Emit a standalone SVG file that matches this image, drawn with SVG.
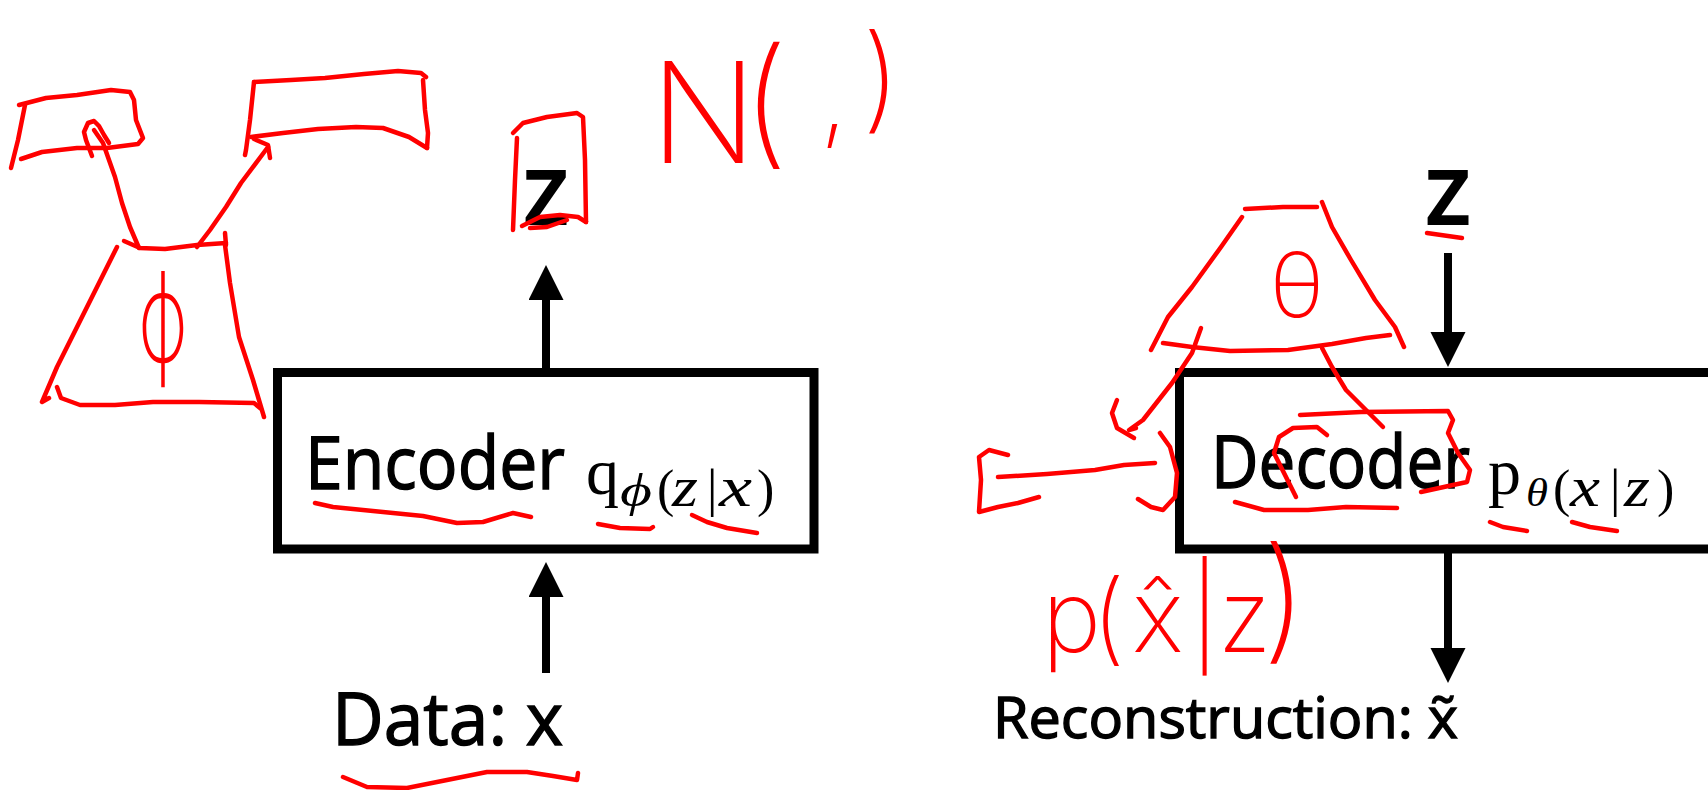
<svg xmlns="http://www.w3.org/2000/svg" width="1708" height="790" viewBox="0 0 1708 790">
  <defs>
    <marker id="head" markerUnits="userSpaceOnUse" markerWidth="36" markerHeight="36" refX="0" refY="17.5" orient="auto">
      <path d="M0,0 L35,17.5 L0,35 Z" fill="#000"/>
    </marker>
    <style>
      .box { fill: #fff; stroke: #000; stroke-width: 9; }
      .label { font-family: "Open Sans", "Liberation Sans", sans-serif; fill: #000; stroke: #000; stroke-width: 1.4; }
      .var { font-family: "Open Sans", "Liberation Sans", sans-serif; font-weight: 700; fill: #000; }
      .math { font-family: "Liberation Serif", "DejaVu Serif", serif; fill: #000; }
      .it { font-style: italic; }
      .wire { stroke: #000; stroke-width: 8; fill: none; marker-end: url(#head); }
      .ink { fill: none; stroke: #ff0000; stroke-width: 4.5; stroke-linecap: round; stroke-linejoin: round; }
      .hand { font-family: Inter, "DejaVu Sans", sans-serif; font-weight: 200; fill: #ff0000; }
    </style>
  </defs>
  <rect width="1708" height="790" fill="#fff"/>

  <!-- encoder block -->
  <g id="encoder">
    <rect class="box" x="277.5" y="372.5" width="536.5" height="176.5"/>
    <text class="label" x="305" y="489" font-size="74" textLength="260" lengthAdjust="spacingAndGlyphs">Encoder</text>
    <text class="math" x="586" y="494" font-size="66">q</text>
    <text class="math" font-size="52" y="506"><tspan class="it" x="620" font-size="46" textLength="32" lengthAdjust="spacingAndGlyphs">ϕ</tspan><tspan x="657">(</tspan><tspan class="it" x="672" font-size="56" textLength="26" lengthAdjust="spacingAndGlyphs">z</tspan><tspan x="707">|</tspan><tspan class="it" x="719" font-size="56" textLength="33" lengthAdjust="spacingAndGlyphs">x</tspan><tspan x="757">)</tspan></text>
  </g>

  <!-- decoder block -->
  <g id="decoder">
    <rect class="box" x="1179.5" y="372.5" width="560" height="176.5"/>
    <text class="label" x="1211" y="488" font-size="74" textLength="259" lengthAdjust="spacingAndGlyphs">Decoder</text>
    <text class="math" x="1488" y="494" font-size="66">p</text>
    <text class="math" font-size="52" y="506"><tspan class="it" x="1526" font-size="40" textLength="22" lengthAdjust="spacingAndGlyphs">θ</tspan><tspan x="1553">(</tspan><tspan class="it" x="1570" font-size="56" textLength="30" lengthAdjust="spacingAndGlyphs">x</tspan><tspan x="1610">|</tspan><tspan class="it" x="1624" font-size="56" textLength="26" lengthAdjust="spacingAndGlyphs">z</tspan><tspan x="1657">)</tspan></text>
  </g>

  <!-- latent and data labels -->
  <g id="latent-top">
    <text class="var" x="546" y="225" font-size="77" text-anchor="middle">Z</text>
  </g>
  <g id="latent-in">
    <text class="var" x="1448" y="225" font-size="77" text-anchor="middle">Z</text>
  </g>
  <g id="data">
    <text class="label" x="332" y="745" font-size="74" textLength="231" lengthAdjust="spacingAndGlyphs">Data: x</text>
  </g>
  <g id="reconstruction">
    <text class="label" x="993" y="738" font-size="57" textLength="465" lengthAdjust="spacingAndGlyphs">Reconstruction: x̃</text>
  </g>

  <!-- connectors -->
  <g id="connectors">
    <line class="wire" x1="546" y1="673" x2="546" y2="597"/>
    <line class="wire" x1="546" y1="370" x2="546" y2="300"/>
    <line class="wire" x1="1448" y1="253" x2="1448" y2="332"/>
    <line class="wire" x1="1448" y1="553" x2="1448" y2="648"/>
  </g>

  <!-- red pen notes -->
  <g id="notes">
    <!-- encoder side: network sketch -->
    <path class="ink" d="M25,105 L18,140 L11,168"/>
    <path class="ink" d="M19,105 L46,98 L77,95 L111,90 L130,92 L134,100 L136,120 L143,138 L138,144 L107,148 L77,148 L42,152 L21,159"/>
    <path class="ink" d="M92,156 L86,140 L84,132 L88,123 L94,121 L99,126 L104,135 L109,143"/>
    <path class="ink" d="M94,130 L103,143 L115,177 L122,203 L130,227 L139,248"/>
    <path class="ink" d="M254,82 L250,120 L246,150 L245,155"/>
    <path class="ink" d="M254,82 L291,80 L325,78 L364,74 L398,71 L421,73 L426,77"/>
    <path class="ink" d="M423,80 L425,110 L428,133 L427,148"/>
    <path class="ink" d="M427,148 L409,137 L383,128 L356,127 L318,129 L283,133 L251,137"/>
    <path class="ink" d="M197,247 L210,230 L226,207 L241,183 L268,147"/>
    <path class="ink" d="M254,139 L268,145 L270,158"/>
    <path class="ink" d="M124,241 L140,248 L165,249 L197,245 L226,243"/>
    <path class="ink" d="M225,233 L226,245"/>
    <path class="ink" d="M225,245 L230,283 L239,337 L253,380 L264,417"/>
    <path class="ink" d="M117,247 L92,297 L57,367 L42,402 L49,398"/>
    <path class="ink" d="M57,387 L61,398 L80,405 L115,405 L153,402 L199,402 L254,403 L260,408"/>
    <text class="hand" x="163" y="362" font-size="125" text-anchor="middle" textLength="50" lengthAdjust="spacingAndGlyphs">ϕ</text>
    <path class="ink" d="M513,133 L523,123 L547,117 L577,113 L583,117 L585,160 L586,222"/>
    <path class="ink" d="M517,138 L515,180 L513,230"/>
    <path class="ink" d="M522,226 L540,217 L560,215 L578,217 L586,222"/>
    <path class="ink" d="M530,228 L547,227 L567,220"/>
    <text class="hand" font-size="140"><tspan x="650" y="163">N</tspan><tspan x="742" y="150">(</tspan><tspan x="820" y="132" font-size="100">,</tspan><tspan x="862" y="118" font-size="115">)</tspan></text>
    <path class="ink" d="M315,503 L333,507 L383,512 L423,516 L457,523 L483,522 L513,513 L531,517"/>
    <path class="ink" d="M598,524 L620,528 L650,529 L653,527"/>
    <path class="ink" d="M692,515 L707,522 L727,528 L757,533"/>
    <path class="ink" d="M343,777 L367,787 L407,788 L447,780 L487,772 L527,772 L553,776 L577,780 L578,773"/>

    <!-- decoder side: network sketch -->
    <path class="ink" d="M1245,209 L1283,207 L1317,207"/>
    <path class="ink" d="M1322,202 L1332,227 L1351,260 L1375,300 L1395,327 L1404,347"/>
    <path class="ink" d="M1242,217 L1221,247 L1192,287 L1168,317 L1151,350"/>
    <path class="ink" d="M1163,343 L1192,347 L1230,351 L1288,350 L1332,344 L1366,338 L1390,335"/>
    <text class="hand" x="1297" y="317" font-size="90" text-anchor="middle">θ</text>
    <path class="ink" d="M1201,328 L1192,353 L1172,383 L1143,420 L1129,430 L1136,428"/>
    <path class="ink" d="M1322,348 L1332,367 L1346,390 L1366,410 L1383,427"/>
    <path class="ink" d="M1300,415 L1361,412 L1448,411 L1453,420 L1448,433 L1458,453 L1470,470 L1467,482 L1453,485 L1421,492"/>
    <path class="ink" d="M1327,435 L1317,427 L1293,428 L1279,437 L1274,453 L1284,473 L1291,487 L1296,497"/>
    <path class="ink" d="M1235,502 L1264,510 L1308,510 L1346,507 L1397,508"/>
    <path class="ink" d="M1008,455 L989,450 L979,457 L981,480 L979,512 L998,507 L1018,503 L1039,497"/>
    <path class="ink" d="M998,477 L1047,474 L1095,470 L1124,465 L1155,463"/>
    <path class="ink" d="M1160,433 L1170,447 L1177,473 L1175,497 L1163,510 L1151,507 L1138,499"/>
    <path class="ink" d="M1117,400 L1112,413 L1117,428 L1134,438"/>
    <path class="ink" d="M1427,233 L1462,238"/>
    <path class="ink" d="M1490,522 L1503,527 L1527,531"/>
    <path class="ink" d="M1572,522 L1590,527 L1617,531"/>
    <text class="hand" font-size="100" y="652"><tspan x="1042">p</tspan><tspan x="1092">(</tspan><tspan x="1132">x̂</tspan><tspan x="1190">|</tspan><tspan x="1218">z</tspan><tspan x="1262" y="645" font-size="135">)</tspan></text>
  </g>
</svg>
